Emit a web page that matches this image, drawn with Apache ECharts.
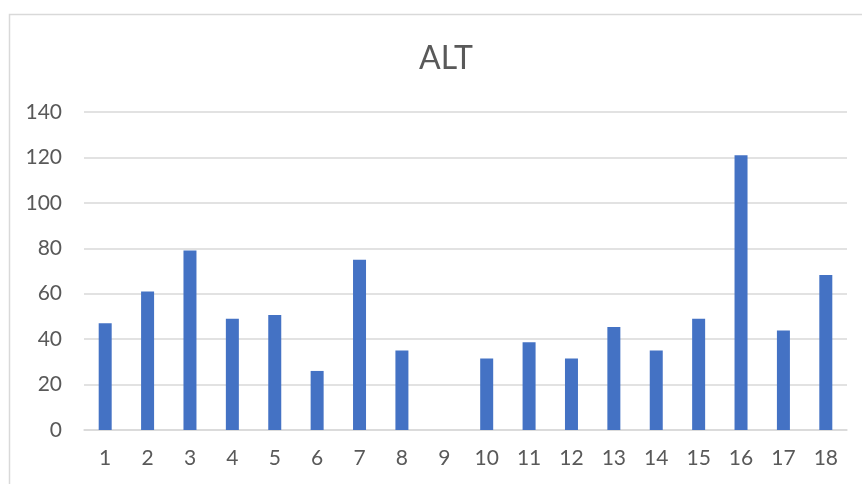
<!DOCTYPE html>
<html>
<head>
<meta charset="utf-8">
<script src="https://cdn.jsdelivr.net/npm/echarts@6/dist/echarts.min.js"></script>
<style>
  html, body { margin: 0; padding: 0; background: #ffffff; }
  #chart { width: 862px; height: 484px; }
</style>
</head>
<body>
<div id="chart"></div>
<script>
// ALT readings per sample (sample 9 has no value)
var categories = ['1','2','3','4','5','6','7','8','9','10','11','12','13','14','15','16','17','18'];
var altValues = [47, 61, 79, 49, 50.6, 26, 75, 35, null, 31.5, 38.6, 31.5, 45.4, 35, 49, 121, 43.8, 68.2];
var yTicks = { min: 0, max: 140, step: 20 };

var textColor = '#595959';
var gridColor = '#d9d9d9';
var fontFamily = 'Lato, "Open Sans", sans-serif';

var chart = echarts.init(document.getElementById('chart'), null, { renderer: 'canvas' });
chart.setOption({
  backgroundColor: '#ffffff',
  animation: false,
  graphic: [{
    type: 'rect',
    left: 7, top: 12,
    shape: { width: 900, height: 500 },
    style: { fill: 'none', stroke: gridColor, lineWidth: 1.5 },
    silent: true
  }],
  title: {
    text: 'ALT',
    left: 414,
    top: 38,
    textStyle: { color: textColor, fontFamily: fontFamily, fontSize: 32, fontWeight: 'normal' }
  },
  grid: { left: 84, right: 15, top: 112, bottom: 54, containLabel: false },
  xAxis: {
    type: 'category',
    data: categories,
    axisLine: { lineStyle: { color: gridColor, width: 1.5 } },
    axisTick: { show: false },
    axisLabel: { color: textColor, fontFamily: fontFamily, fontSize: 21, margin: 18 }
  },
  yAxis: {
    type: 'value',
    min: yTicks.min,
    max: yTicks.max,
    interval: yTicks.step,
    axisLine: { show: false },
    axisTick: { show: false },
    axisLabel: { color: textColor, fontFamily: fontFamily, fontSize: 21, margin: 22 },
    splitLine: { lineStyle: { color: gridColor, width: 1.5 } }
  },
  series: [{
    type: 'bar',
    name: 'ALT',
    data: altValues,
    barWidth: 13,
    itemStyle: { color: '#4472c4' }
  }]
});
</script>
</body>
</html>
